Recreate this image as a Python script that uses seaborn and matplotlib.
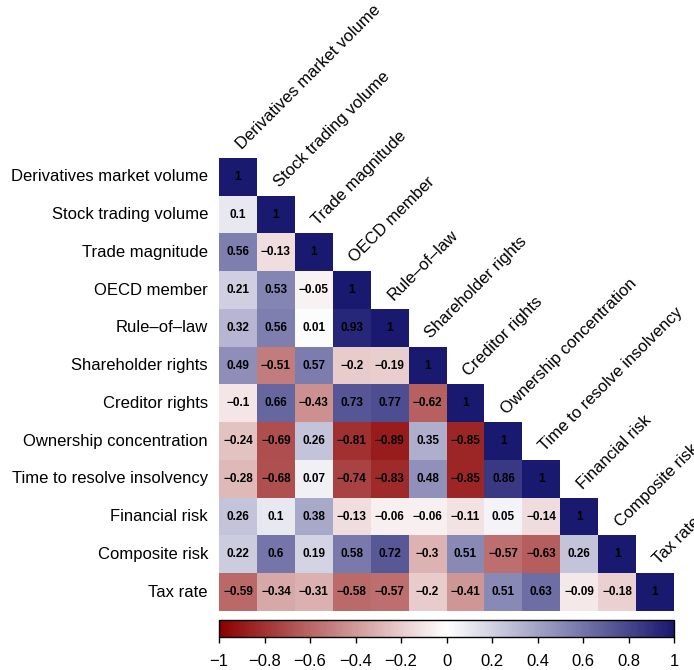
import numpy as np
import pandas as pd
import matplotlib
matplotlib.use('Agg')
import matplotlib.pyplot as plt
import seaborn as sns
from matplotlib.colors import LinearSegmentedColormap

# Variable names
labels = ['Derivatives market volume', 'Stock trading volume', 'Trade magnitude',
          'OECD member', 'Rule\u2013of\u2013law', 'Shareholder rights', 'Creditor rights',
          'Ownership concentration', 'Time to resolve insolvency', 'Financial risk',
          'Composite risk', 'Tax rate']

# Lower triangle rows of the correlation matrix
r0 = [1]
r1 = [0.1, 1]
r2 = [0.56, -0.13, 1]
r3 = [0.21, 0.53, -0.05, 1]
r4 = [0.32, 0.56, 0.01, 0.93, 1]
r5 = [0.49, -0.51, 0.57, -0.2, -0.19, 1]
r6 = [-0.1, 0.66, -0.43, 0.73, 0.77, -0.62, 1]
r7 = [-0.24, -0.69, 0.26, -0.81, -0.89, 0.35, -0.85, 1]
r8 = [-0.28, -0.68, 0.07, -0.74, -0.83, 0.48, -0.85, 0.86, 1]
r9 = [0.26, 0.1, 0.38, -0.13, -0.06, -0.06, -0.11, 0.05, -0.14, 1]
r10 = [0.22, 0.6, 0.19, 0.58, 0.72, -0.3, 0.51, -0.57, -0.63, 0.26, 1]
r11 = [-0.59, -0.34, -0.31, -0.58, -0.57, -0.2, -0.41, 0.51, 0.63, -0.09, -0.18, 1]
rows = [r0, r1, r2, r3, r4, r5, r6, r7, r8, r9, r10, r11]

cbar_ticks = [-1, -0.8, -0.6, -0.4, -0.2, 0, 0.2, 0.4, 0.6, 0.8, 1]

n = len(labels)
mat = np.full((n, n), np.nan)
for i, r in enumerate(rows):
    mat[i, :len(r)] = r
df = pd.DataFrame(mat, index=labels, columns=labels)
mask = np.triu(np.ones((n, n), dtype=bool), k=1)

def fmt(v):
    if np.isnan(v):
        return ''
    return f'{v:g}'.replace('-', '\u2212')

annot = np.array([[fmt(v) for v in row] for row in mat])

plt.rcParams['font.family'] = ['Liberation Sans', 'DejaVu Sans']

cmap = LinearSegmentedColormap.from_list('rwb', ['#8B0000', 'white', '#191970'])

fig = plt.figure(figsize=(6.94, 6.70), dpi=100)
ax = fig.add_axes([0.3156, 0.0881, 0.6556, 0.6761])
cax = fig.add_axes([0.3156, 0.0493, 0.6556, 0.0254])

sns.heatmap(df, mask=mask, cmap=cmap, vmin=-1, vmax=1, annot=annot, fmt='',
            annot_kws={'fontsize': 8.5, 'fontweight': 'bold', 'color': 'black'},
            linewidths=0, square=False, ax=ax,
            cbar_ax=cax, cbar_kws={'orientation': 'horizontal', 'ticks': cbar_ticks})

# row labels
ax.set_yticks(np.arange(n) + 0.5)
ax.set_yticklabels(labels, fontsize=12, rotation=0)
ax.tick_params(axis='y', length=0, pad=8)
ax.set_xticks([])
ax.set_xlabel('')
ax.set_ylabel('')

# diagonal column labels (the last two run past the right edge, as in the original)
for j, name in enumerate(labels):
    ax.text(j + 0.65, j - 0.15, name, rotation=45, rotation_mode='anchor',
            ha='left', va='bottom', fontsize=12, clip_on=False)

# colorbar styling
cb = ax.collections[0].colorbar
cb.outline.set_edgecolor('black')
cb.outline.set_linewidth(1.0)
cax.set_xticklabels([f'{t:g}'.replace('-', '\u2212') for t in cbar_ticks], fontsize=12)
cax.tick_params(axis='x', length=4, width=1, direction='out', pad=8)

fig.savefig('out.png', dpi=100)
